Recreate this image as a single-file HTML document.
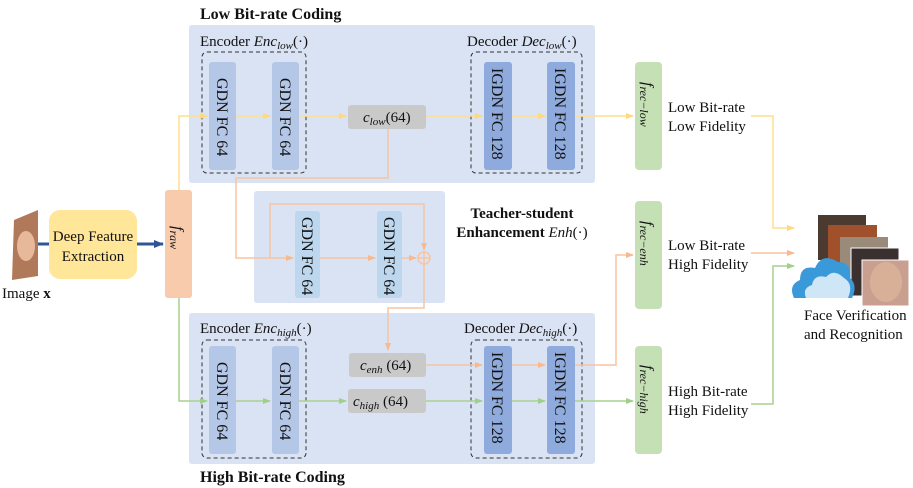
<!DOCTYPE html>
<html><head><meta charset="utf-8"><style>
html,body{margin:0;padding:0;background:#fff;}
svg{display:block;}
text{font-family:"Liberation Serif",serif;fill:#111;}
.it{font-style:italic;}
.b{font-weight:bold;}
</style></head><body>
<svg width="913" height="488" viewBox="0 0 913 488" xmlns="http://www.w3.org/2000/svg">
<defs>
<marker id="ay" markerWidth="8" markerHeight="6" refX="7" refY="3" orient="auto" markerUnits="userSpaceOnUse"><path d="M0,0 L8,3 L0,6z" fill="#ffd97a"/></marker>
<marker id="ao" markerWidth="8" markerHeight="6" refX="7" refY="3" orient="auto" markerUnits="userSpaceOnUse"><path d="M0,0 L8,3 L0,6z" fill="#f8b990"/></marker>
<marker id="ag" markerWidth="8" markerHeight="6" refX="7" refY="3" orient="auto" markerUnits="userSpaceOnUse"><path d="M0,0 L8,3 L0,6z" fill="#9fd08a"/></marker>
<marker id="ab" markerWidth="10" markerHeight="8" refX="9" refY="4" orient="auto" markerUnits="userSpaceOnUse"><path d="M0,0 L10,4 L0,8z" fill="#2f5597"/></marker>
</defs>

<text x="200" y="19" font-size="16" class="b">Low Bit-rate Coding</text>
<text x="200" y="482" font-size="16" class="b">High Bit-rate Coding</text>

<rect x="189" y="25" width="406" height="158" rx="3" fill="#dae3f3"/>
<rect x="254" y="191" width="191" height="112" rx="3" fill="#dae3f3"/>
<rect x="189" y="313" width="406" height="151" rx="3" fill="#dae3f3"/>

<text x="200" y="46" font-size="15">Encoder <tspan class="it">Enc</tspan><tspan class="it" font-size="11" dy="3">low</tspan><tspan dy="-3">(·)</tspan></text>
<text x="467" y="46" font-size="15">Decoder <tspan class="it">Dec</tspan><tspan class="it" font-size="11" dy="3">low</tspan><tspan dy="-3">(·)</tspan></text>
<text x="200" y="333" font-size="15">Encoder <tspan class="it">Enc</tspan><tspan class="it" font-size="11" dy="3">high</tspan><tspan dy="-3">(·)</tspan></text>
<text x="464" y="333" font-size="15">Decoder <tspan class="it">Dec</tspan><tspan class="it" font-size="11" dy="3">high</tspan><tspan dy="-3">(·)</tspan></text>

<g fill="none" stroke="#333" stroke-dasharray="4,3" stroke-width="1">
<rect x="202" y="52" width="104" height="121" rx="5"/>
<rect x="471" y="52" width="111" height="121" rx="5"/>
<rect x="202" y="340" width="104" height="118" rx="5"/>
<rect x="471" y="340" width="111" height="118" rx="5"/>
</g>

<g fill="none" stroke="#ffe08a" stroke-width="1.5">
<path d="M179,190 V116 H207" marker-end="url(#ay)"/>
<path d="M236,116 H270" marker-end="url(#ay)"/>
<path d="M299,116 H346" marker-end="url(#ay)"/>
<path d="M426,116 H482" marker-end="url(#ay)"/>
<path d="M512,116 H545" marker-end="url(#ay)"/>
<path d="M575,116 H633" marker-end="url(#ay)"/>
<path d="M751,116 H773 V228 H794" marker-end="url(#ay)"/>
</g>
<g fill="none" stroke="#f8c4a0" stroke-width="1.5">
<path d="M388,129 V178 H236 V258 H293" marker-end="url(#ao)"/>
<path d="M270,258 V204 H424 V250" marker-end="url(#ao)"/>
<path d="M320,258 H375" marker-end="url(#ao)"/>
<path d="M402,258 H416" marker-end="url(#ao)"/>
<path d="M424,264 V308 H388 V350" marker-end="url(#ao)"/>
<path d="M426,365 H482" marker-end="url(#ao)"/>
<path d="M512,365 H545" marker-end="url(#ao)"/>
<path d="M575,365 H616 V255 H633" marker-end="url(#ao)"/>
<path d="M751,253 H794" marker-end="url(#ao)"/>
<circle cx="424" cy="258" r="6"/>
<path d="M418,258 H430 M424,252 V264"/>
</g>
<g fill="none" stroke="#a9d18e" stroke-width="1.5">
<path d="M179,298 V401 H207" marker-end="url(#ag)"/>
<path d="M236,401 H270" marker-end="url(#ag)"/>
<path d="M299,401 H346" marker-end="url(#ag)"/>
<path d="M426,401 H482" marker-end="url(#ag)"/>
<path d="M512,401 H545" marker-end="url(#ag)"/>
<path d="M575,401 H633" marker-end="url(#ag)"/>
<path d="M751,404 H773 V266 H794" marker-end="url(#ag)"/>
</g>
<path d="M38,244 H163" stroke="#2f5597" stroke-width="3" fill="none" marker-end="url(#ab)"/>

<g fill="#b4c7e7">
<rect x="209" y="62" width="27" height="108" rx="3"/>
<rect x="272" y="62" width="27" height="108" rx="3"/>
<rect x="209" y="346" width="27" height="108" rx="3"/>
<rect x="272" y="346" width="27" height="108" rx="3"/>
</g>
<g fill="#bdd7ee">
<rect x="295" y="211" width="25" height="87" rx="3"/>
<rect x="377" y="211" width="25" height="87" rx="3"/>
</g>
<g fill="#8faadc">
<rect x="484" y="62" width="28" height="108" rx="3"/>
<rect x="547" y="62" width="28" height="108" rx="3"/>
<rect x="484" y="346" width="28" height="108" rx="3"/>
<rect x="547" y="346" width="28" height="108" rx="3"/>
</g>
<g font-size="16">
<text transform="translate(217,78) rotate(90)">GDN FC 64</text>
<text transform="translate(280,78) rotate(90)">GDN FC 64</text>
<text transform="translate(217,362) rotate(90)">GDN FC 64</text>
<text transform="translate(280,362) rotate(90)">GDN FC 64</text>
<text transform="translate(302,217) rotate(90)">GDN FC 64</text>
<text transform="translate(384,217) rotate(90)">GDN FC 64</text>
<text transform="translate(492,68) rotate(90)">IGDN FC  128</text>
<text transform="translate(555,68) rotate(90)">IGDN FC  128</text>
<text transform="translate(492,352) rotate(90)">IGDN FC  128</text>
<text transform="translate(555,352) rotate(90)">IGDN FC  128</text>
</g>

<g fill="#c9c9c9">
<rect x="348" y="105" width="78" height="24" rx="3"/>
<rect x="349" y="353" width="77" height="24" rx="3"/>
<rect x="348" y="389" width="78" height="24" rx="3"/>
</g>
<text x="363" y="122" font-size="15"><tspan class="it">c</tspan><tspan class="it" font-size="11" dy="3">low</tspan><tspan dy="-3">(64)</tspan></text>
<text x="360" y="370" font-size="15"><tspan class="it">c</tspan><tspan class="it" font-size="11" dy="3">enh</tspan><tspan dy="-3"> (64)</tspan></text>
<text x="353" y="406" font-size="15"><tspan class="it">c</tspan><tspan class="it" font-size="11" dy="3">high</tspan><tspan dy="-3">  (64)</tspan></text>

<rect x="165" y="190" width="27" height="108" rx="3" fill="#f8cbad"/>
<text transform="translate(173,226) rotate(90)" font-size="16"><tspan class="it">f</tspan><tspan class="it" font-size="12" dy="3">raw</tspan></text>

<g fill="#c5e0b4">
<rect x="635" y="62" width="27" height="108" rx="4"/>
<rect x="635" y="201" width="27" height="108" rx="4"/>
<rect x="635" y="346" width="27" height="108" rx="4"/>
</g>
<text transform="translate(643,82) rotate(90)" font-size="16"><tspan class="it">f</tspan><tspan class="it" font-size="12" dy="3">rec−low</tspan></text>
<text transform="translate(643,221) rotate(90)" font-size="16"><tspan class="it">f</tspan><tspan class="it" font-size="12" dy="3">rec−enh</tspan></text>
<text transform="translate(643,365) rotate(90)" font-size="16"><tspan class="it">f</tspan><tspan class="it" font-size="12" dy="3">rec−high</tspan></text>

<g font-size="15">
<text x="668" y="112">Low Bit-rate</text>
<text x="668" y="131">Low Fidelity</text>
<text x="668" y="250">Low Bit-rate</text>
<text x="668" y="269">High Fidelity</text>
<text x="668" y="396">High Bit-rate</text>
<text x="668" y="415">High Fidelity</text>
<text x="804" y="320">Face Verification</text>
<text x="804" y="339">and  Recognition</text>
</g>

<text x="522" y="218" font-size="15" class="b" text-anchor="middle">Teacher-student</text>
<text x="522" y="237" font-size="15" text-anchor="middle"><tspan class="b">Enhancement </tspan><tspan class="it">Enh</tspan>(·)</text>

<rect x="49" y="210" width="88" height="69" rx="11" fill="#ffe699"/>
<text x="93" y="241" font-size="15" text-anchor="middle">Deep Feature</text>
<text x="93" y="261" font-size="15" text-anchor="middle">Extraction</text>
<path d="M14,220 L38,210 L38,276 L12,280 Z" fill="#b07a5a"/>
<ellipse cx="26" cy="246" rx="9" ry="15" fill="#e7b89a"/>
<text x="2" y="298" font-size="15">Image <tspan class="b">x</tspan></text>

<rect x="818" y="215" width="48" height="45" fill="#4a3a30"/>
<rect x="828" y="225" width="49" height="46" fill="#a0502a"/>
<rect x="840" y="237" width="48" height="48" fill="#9a8a7a"/>
<rect x="851" y="248" width="48" height="48" fill="#3a3030" stroke="#fff" stroke-width="1"/>
<rect x="862" y="260" width="47" height="46" fill="#c9a090" stroke="#fff" stroke-width="1"/>
<ellipse cx="886" cy="282" rx="16" ry="20" fill="#d8b098"/>
<path d="M794,298 Q788,285 800,280 Q800,265 815,268 Q822,252 838,262 Q852,262 850,278 Q858,285 852,298 Z" fill="#3a9ad9"/>
<path d="M806,298 Q802,288 812,285 Q814,274 826,277 Q834,268 844,278 Q854,284 848,298 Z" fill="#cfe6f7"/>
</svg>
</body></html>
